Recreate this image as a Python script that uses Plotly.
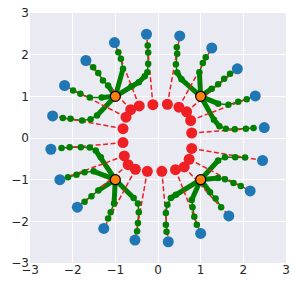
import plotly.graph_objects as go

# Hubs (orange)
hub_x = [1.0, -1.0, -1.0, 1.0]
hub_y = [1.0, 1.0, -1.0, -1.0]

# Which hub each spoke belongs to (spokes ordered by angle 6°, 24°, ...)
spoke_hub = [0, 0, 0, 0, 0, 1, 1, 1, 1, 1, 2, 2, 2, 2, 2, 3, 3, 3, 3, 3]

# Outer (blue) nodes
blue_x = [2.49, 2.28, 1.86, 1.26, 0.51, -0.27, -1.02, -1.69, -2.19, -2.47,
          -2.51, -2.30, -1.89, -1.27, -0.54, 0.24, 1.00, 1.66, 2.16, 2.45]
blue_y = [0.25, 1.01, 1.66, 2.16, 2.45, 2.49, 2.29, 1.86, 1.26, 0.53,
          -0.27, -1.00, -1.66, -2.17, -2.45, -2.49, -2.29, -1.87, -1.27, -0.54]

# Inner (red) nodes
red_x = [0.79, 0.765, 0.67, 0.49, 0.22, -0.12, -0.44, -0.64, -0.75, -0.82,
         -0.82, -0.79, -0.70, -0.53, -0.25, 0.09, 0.41, 0.615, 0.73, 0.79]
red_y = [0.12, 0.42, 0.63, 0.74, 0.81, 0.80, 0.77, 0.68, 0.50, 0.225,
         -0.11, -0.43, -0.64, -0.75, -0.80, -0.80, -0.76, -0.695, -0.51, -0.25]

# Green chain points per spoke
green_x = [
    [1.31, 1.44, 1.59, 1.80, 2.06, 2.24],
    [1.41, 1.65, 1.88, 2.08],
    [1.26, 1.41, 1.55, 1.69],
    [0.97, 1.05, 1.12],
    [0.55, 0.45, 0.42, 0.45, 0.44],
    [-0.62, -0.45, -0.31, -0.25, -0.23, -0.23, -0.24],
    [-0.82, -0.87, -0.93],
    [-1.17, -1.29, -1.40, -1.52],
    [-1.32, -1.60, -1.82, -1.99],
    [-1.43, -1.58, -1.78, -2.05, -2.23],
    [-1.34, -1.46, -1.60, -1.81, -2.07, -2.26],
    [-1.51, -1.72, -1.91, -2.11],
    [-1.40, -1.56, -1.72],
    [-1.03, -1.11, -1.17],
    [-0.57, -0.47, -0.45, -0.47, -0.49],
    [0.42, 0.30, 0.22, 0.185, 0.185, 0.20],
    [0.79, 0.81, 0.85, 0.91],
    [1.22, 1.35, 1.48],
    [1.41, 1.57, 1.77, 1.94],
    [1.41, 1.57, 1.81, 2.04],
]
green_y = [
    [0.44, 0.28, 0.225, 0.21, 0.225, 0.24],
    [0.825, 0.80, 0.87, 0.93],
    [1.185, 1.29, 1.42, 1.54],
    [1.58, 1.80, 1.94],
    [1.41, 1.57, 1.77, 2.02, 2.18],
    [1.24, 1.34, 1.48, 1.58, 1.78, 2.05, 2.22],
    [1.66, 1.90, 2.06],
    [1.26, 1.38, 1.56, 1.70],
    [0.97, 0.97, 1.06, 1.14],
    [0.54, 0.45, 0.42, 0.46, 0.48],
    [-0.46, -0.30, -0.23, -0.22, -0.22, -0.24],
    [-0.80, -0.82, -0.88, -0.94],
    [-1.26, -1.40, -1.53],
    [-1.57, -1.78, -1.93],
    [-1.44, -1.57, -1.78, -2.04, -2.24],
    [-1.36, -1.44, -1.60, -1.80, -2.08, -2.25],
    [-1.49, -1.66, -1.89, -2.08],
    [-1.30, -1.45, -1.66],
    [-0.96, -0.99, -1.08, -1.15],
    [-0.54, -0.46, -0.46, -0.47],
]

# number of chain points joined to the hub by the thick green stroke
thick_count = [2, 1, 1, 1, 2, 3, 1, 1, 1, 1, 2, 1, 1, 1, 1, 2, 1, 1, 1, 1]

ticks = [-3, -2, -1, 0, 1, 2, 3]

RED = "rgb(238,32,36)"
GREEN = "#008000"

fig = go.Figure()

# thick green strokes near hubs
tx, ty = [], []
# thin green strokes further out
sx, sy = [], []
for i, h in enumerate(spoke_hub):
    n = thick_count[i]
    tx += [hub_x[h]] + green_x[i][:n] + [None]
    ty += [hub_y[h]] + green_y[i][:n] + [None]
    sx += green_x[i][n - 1:] + [None]
    sy += green_y[i][n - 1:] + [None]
fig.add_trace(go.Scatter(x=tx, y=ty, mode="lines",
                         line=dict(color=GREEN, width=5),
                         hoverinfo="skip", showlegend=False))
fig.add_trace(go.Scatter(x=sx, y=sy, mode="lines",
                         line=dict(color=GREEN, width=1.5),
                         hoverinfo="skip", showlegend=False))

# red dashed links (red -> blue)
rx, ry = [], []
for i in range(len(red_x)):
    rx += [red_x[i], blue_x[i], None]
    ry += [red_y[i], blue_y[i], None]
fig.add_trace(go.Scatter(x=rx, y=ry, mode="lines",
                         line=dict(color=RED, width=1.5, dash="5px,2.5px"),
                         hoverinfo="skip", showlegend=False))

# green chain dots
dx, dy = [], []
for i in range(len(green_x)):
    dx += green_x[i]
    dy += green_y[i]
fig.add_trace(go.Scatter(x=dx, y=dy, mode="markers",
                         marker=dict(color=GREEN, size=6.5),
                         hoverinfo="skip", showlegend=False))

fig.add_trace(go.Scatter(x=red_x, y=red_y, mode="markers",
                         marker=dict(color=RED, size=11),
                         showlegend=False))
fig.add_trace(go.Scatter(x=blue_x, y=blue_y, mode="markers",
                         marker=dict(color="#1f77b4", size=11),
                         showlegend=False))
fig.add_trace(go.Scatter(x=hub_x, y=hub_y, mode="markers",
                         marker=dict(color="#ff7f0e", size=10,
                                     line=dict(color="black", width=1.2)),
                         showlegend=False))

axis_common = dict(range=[-3, 3], tickvals=ticks, showgrid=True,
                   gridcolor="white", gridwidth=1, zeroline=False,
                   showline=False, ticks="", automargin=False,
                   tickfont=dict(family="DejaVu Sans", size=12, color="#262626"))
fig.update_xaxes(**axis_common, ticklabelstandoff=-2)
fig.update_yaxes(**axis_common)

fig.update_layout(width=293, height=287, autosize=False,
                  margin=dict(l=30, r=7, t=13, b=24),
                  plot_bgcolor="#EAEAF2", paper_bgcolor="white",
                  showlegend=False, hovermode=False)

fig.write_html("out.html", config={"displayModeBar": False},
               post_script="document.body.style.margin='0px';")
